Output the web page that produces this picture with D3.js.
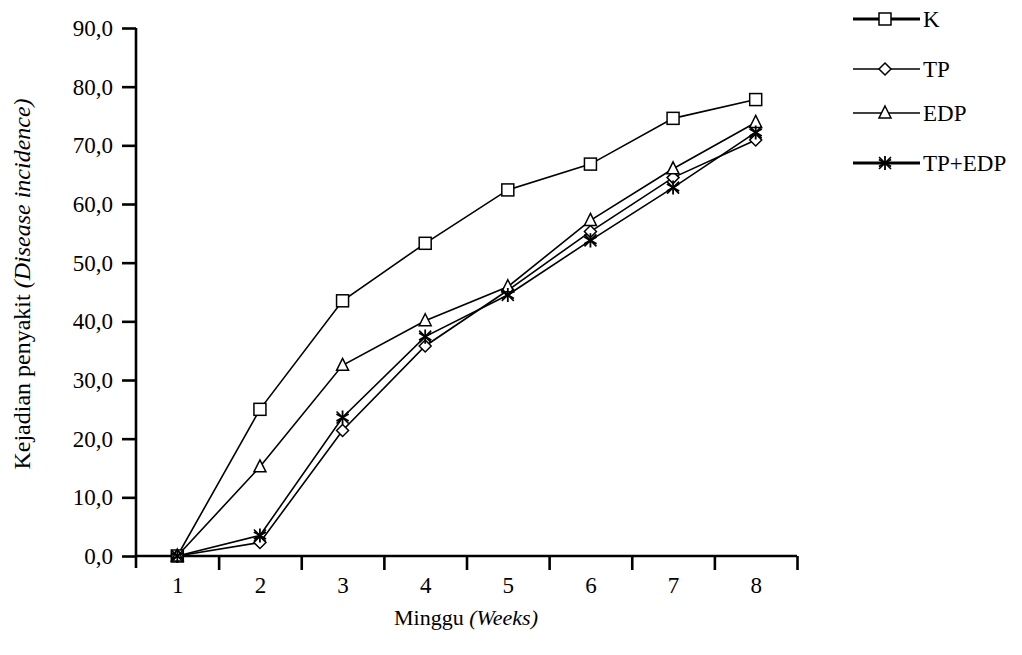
<!DOCTYPE html>
<html>
<head>
<meta charset="utf-8">
<script src="https://cdn.jsdelivr.net/npm/d3@7"></script>
<style>
  body { margin: 0; background: #fff; }
  text { font-family: "Times New Roman", "Liberation Serif", serif; fill: #000; }
</style>
</head>
<body>
<svg id="chart" width="1022" height="655"></svg>
<script>
let weeks = [1, 2, 3, 4, 5, 6, 7, 8];
let yTicks = [0, 10, 20, 30, 40, 50, 60, 70, 80, 90];
let seriesNames = ['K', 'TP', 'EDP', 'TP+EDP'];
let kValues = [0, 25.0, 43.5, 53.3, 62.4, 66.8, 74.6, 77.8];
let tpValues = [0, 2.3, 21.4, 35.8, 45.3, 55.3, 64.5, 70.9];
let edpValues = [0, 15.2, 32.5, 40.1, 45.9, 57.2, 66.0, 73.9];
let tpEdpValues = [0, 3.5, 23.6, 37.4, 44.5, 53.8, 62.8, 72.2];

let series = [
  { name: seriesNames[0], values: kValues, symbol: 'square', legendWidth: 3 },
  { name: seriesNames[1], values: tpValues, symbol: 'diamond', legendWidth: 1.6 },
  { name: seriesNames[2], values: edpValues, symbol: 'triangle', legendWidth: 1.6 },
  { name: seriesNames[3], values: tpEdpValues, symbol: 'asterisk', legendWidth: 3 }
];

let fontSize = 23;
let svg = d3.select('#chart');

let x = d3.scaleLinear().domain([0.5, 8.5]).range([136, 797]);
let y = d3.scaleLinear().domain([0, 90]).range([556, 28]);

let fmt = d => d.toFixed(1).replace('.', ',');

// y axis
let yAxis = svg.append('g').attr('transform', `translate(${x(0.5)},0)`)
  .call(d3.axisLeft(y).tickValues(yTicks).tickFormat(fmt).tickSize(14).tickPadding(9));
yAxis.select('.domain').attr('d', `M0,${y(90)}V${y(0) + 12}`);

// x axis: ticks at the week boundaries, labels at the weeks
let xAxis = svg.append('g').attr('transform', `translate(0,${y(0)})`)
  .call(d3.axisBottom(x).tickValues(d3.range(1.5, 9, 1)).tickFormat('').tickSize(14));
xAxis.select('.domain').attr('d', `M${x(0.5)},0H${x(8.5)}`);
let xLabels = svg.append('g').attr('transform', `translate(0,${y(0)})`)
  .call(d3.axisBottom(x).tickValues(weeks).tickFormat(d3.format('d')).tickSize(0).tickPadding(21));
xLabels.select('.domain').remove();

svg.selectAll('.domain, .tick line').attr('stroke', '#000').attr('stroke-width', 2.6);
svg.selectAll('.tick text').attr('font-size', fontSize).attr('font-family', '"Times New Roman", "Liberation Serif", serif').attr('fill', '#000');

// axis titles
let xTitle = svg.append('text').attr('x', 466).attr('y', 625).attr('text-anchor', 'middle').attr('font-size', fontSize - 1);
xTitle.append('tspan').text('Minggu ');
xTitle.append('tspan').attr('font-style', 'italic').text('(Weeks)');

let yTitle = svg.append('text').attr('transform', 'translate(30,284) rotate(-90)').attr('text-anchor', 'middle').attr('font-size', fontSize + 1);
yTitle.append('tspan').text('Kejadian penyakit ');
yTitle.append('tspan').attr('font-style', 'italic').text('(Disease incidence)');

function drawMarker(g, type) {
  if (type === 'square') {
    g.append('rect').attr('x', -6).attr('y', -6).attr('width', 12).attr('height', 12)
      .attr('fill', '#fff').attr('stroke', '#000').attr('stroke-width', 1.5);
  } else if (type === 'diamond') {
    g.append('path').attr('d', 'M0,-6L6,0L0,6L-6,0Z')
      .attr('fill', '#fff').attr('stroke', '#000').attr('stroke-width', 1.5);
  } else if (type === 'triangle') {
    g.append('path').attr('d', 'M0,-7L6,5L-6,5Z')
      .attr('fill', '#fff').attr('stroke', '#000').attr('stroke-width', 1.5);
  } else {
    g.append('path').attr('d', d3.symbol(d3.symbolAsterisk, 140)())
      .attr('fill', 'none').attr('stroke', '#000').attr('stroke-width', 1.8);
    g.append('path').attr('d', 'M-6,-6L6,6M-6,6L6,-6')
      .attr('fill', 'none').attr('stroke', '#000').attr('stroke-width', 1.6);
  }
}

let line = d3.line().x((d, i) => x(weeks[i])).y(d => y(d));

series.forEach(s => {
  svg.append('path').datum(s.values).attr('d', line)
    .attr('fill', 'none').attr('stroke', '#000').attr('stroke-width', 1.6);
});
series.forEach(s => {
  s.values.forEach((v, i) => {
    let g = svg.append('g').attr('transform', `translate(${x(weeks[i])},${y(v)})`);
    drawMarker(g, s.symbol);
  });
});

// legend
let legendY = [19, 69, 113, 163];
series.forEach((s, i) => {
  let g = svg.append('g').attr('transform', `translate(853,${legendY[i]})`);
  g.append('line').attr('x1', 0).attr('x2', 67).attr('stroke', '#000').attr('stroke-width', s.legendWidth);
  let m = g.append('g').attr('transform', 'translate(32,0)');
  drawMarker(m, s.symbol);
  g.append('text').attr('x', 70).attr('y', 8).attr('font-size', fontSize).text(s.name);
});
</script>
</body>
</html>
